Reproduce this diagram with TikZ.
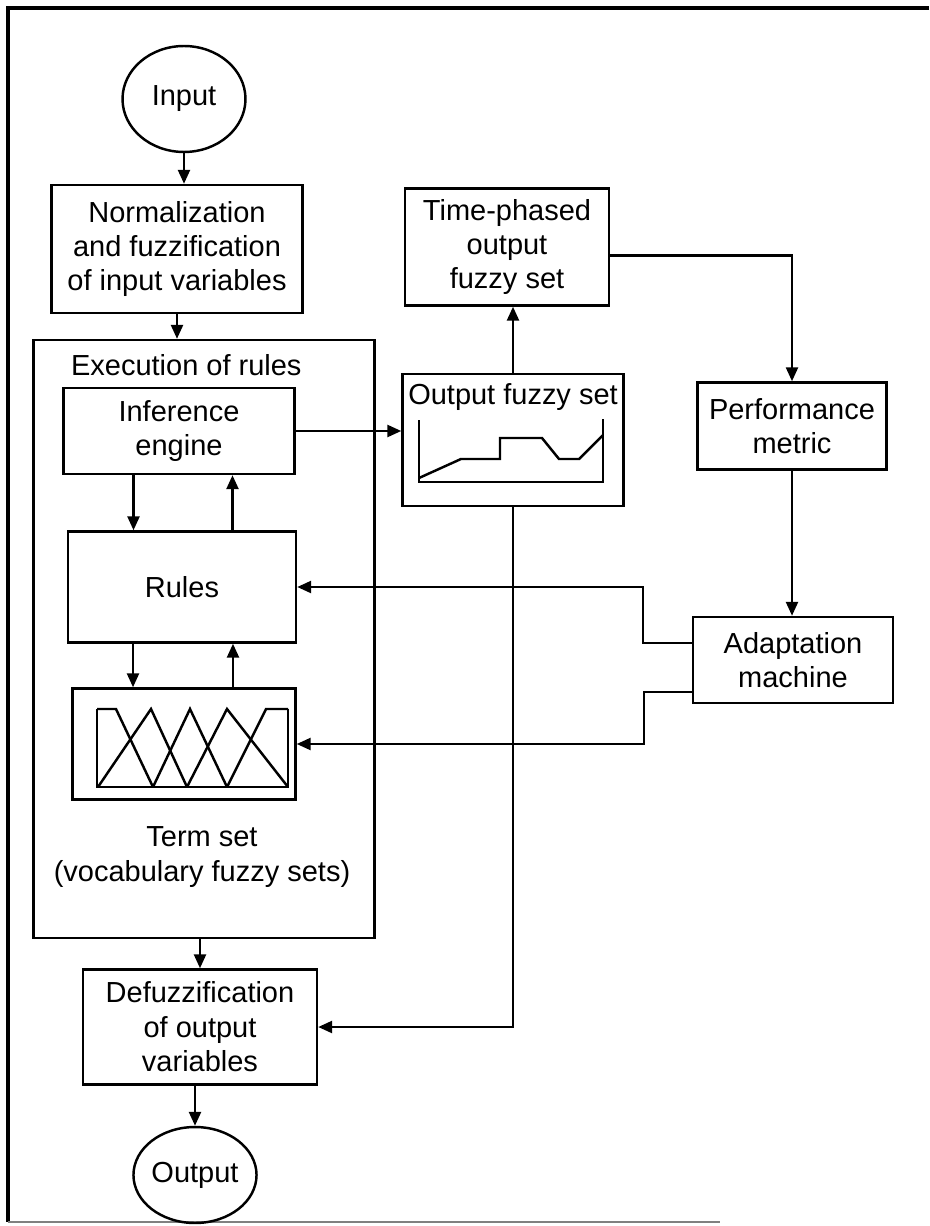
\documentclass[tikz,border=0pt]{standalone}
\usepackage{fontspec}
\setmainfont{Liberation Sans}
\usetikzlibrary{shapes.geometric,arrows.meta}

\tikzset{
  procbox/.style={draw, rectangle, align=center, inner sep=1pt},
  termnode/.style={draw, ellipse, inner sep=0pt},
}

\begin{document}
\begin{tikzpicture}[x=0.02cm,y=-0.02cm,line width=1.4pt,
  font=\fontsize{16.5pt}{19.6pt}\selectfont,
  >={Triangle[length=0.28cm,width=0.24cm]}]
\useasboundingbox (0,0) rectangle (929,1226);
% frame of the scan
\draw[line width=2pt] (929,8) -- (8,8) -- (8,1222);
\draw[gray, line width=0.6pt] (8,1222) -- (720,1222);

% left column
\node[termnode, minimum width=2.46cm, minimum height=2.12cm] (input) at (184,99) {Input};
\node[procbox, minimum width=5.02cm, minimum height=2.56cm] (norm) at (177,249) {Normalization\\and fuzzification\\of input variables};
\node[procbox, minimum width=6.82cm, minimum height=11.96cm] (exec) at (204,639) {};
\node[anchor=west] (exectitle) at (64,365) {Execution of rules};
\node[procbox, minimum width=4.62cm, minimum height=1.72cm] (infer) at (179,431) {Inference\\engine};
\node[procbox, minimum width=4.56cm, minimum height=2.22cm] (rules) at (182,587) {Rules};
\node[procbox, minimum width=4.46cm, minimum height=2.22cm] (term) at (184,744) {};
\node[align=center] (termlabel) at (202,857) {Term set\\(vocabulary fuzzy sets)};
\node[procbox, minimum width=4.68cm, minimum height=2.3cm] (defuzz) at (200,1027) {Defuzzification\\of output\\variables};
\node[termnode, minimum width=2.28cm, minimum height=1.92cm] (output) at (195,1175) {Output};

% right column
\node[procbox, minimum width=4.08cm, minimum height=2.34cm] (timeph) at (507,247) {Time-phased\\output\\fuzzy set};
\node[procbox, minimum width=4.42cm, minimum height=2.64cm] (outfs) at (513,440) {};
\node[anchor=north] (outfstitle) at (513,376) {Output fuzzy set};
\node[procbox, minimum width=3.78cm, minimum height=1.74cm] (perf) at (792,426) {Performance\\metric};
\node[procbox, minimum width=4.0cm, minimum height=1.72cm] (adapt) at (793,660) {Adaptation\\machine};

% term set membership functions
\draw (97,709) -- (97,787) -- (288,787) -- (288,709);
\draw (97,709) -- (116,709) -- (153,787);
\draw (98,787) -- (151,709) -- (187,787);
\draw (153,787) -- (190,709) -- (227,787);
\draw (187,787) -- (227,709) -- (288,787);
\draw (227,787) -- (266,709) -- (288,709);

% output fuzzy set curve
\draw (419,420) -- (419,482) -- (603,482) -- (603,419);
\draw (419,478) -- (461,459) -- (500,459) -- (500,438) -- (542,438)
  -- (559,459) -- (579,459) -- (603,435);

% connectors
\draw[->] (input.south) -- (input.south |- norm.north);
\draw[->] (norm.south) -- (norm.south |- exec.north);
\coordinate (ir1) at ([xshift=-0.91cm]infer.south);
\coordinate (ir2) at ([xshift=1.07cm]infer.south);
\draw[->] (ir1) -- (ir1 |- rules.north);
\draw[->] (ir2 |- rules.north) -- (ir2);
\coordinate (rt1) at ([xshift=-0.98cm]rules.south);
\coordinate (rt2) at ([xshift=1.02cm]rules.south);
\draw[->] (rt1) -- (rt1 |- term.north);
\draw[->] (rt2 |- term.north) -- (rt2);
\draw[->] (defuzz.north |- exec.south) -- (defuzz.north);
\draw[->] (output.north |- defuzz.south) -- (output.north);
\draw[->] (infer.east) -- (infer.east -| outfs.west);
\draw[->] (outfs.north) -- (outfs.north |- timeph.south);
\draw[->] ([yshift=-0.17cm]timeph.east) -| (perf.north);
\draw[->] (perf.south) -- (perf.south |- adapt.north);
\draw[->] ([yshift=0.34cm]adapt.west) -- ++(-0.98cm,0) |- (rules.east);
\draw[->] ([yshift=-0.64cm]adapt.west) -- ++(-0.96cm,0) |- (term.east);
\draw[->] (outfs.south) |- (defuzz.east);
\end{tikzpicture}
\end{document}
